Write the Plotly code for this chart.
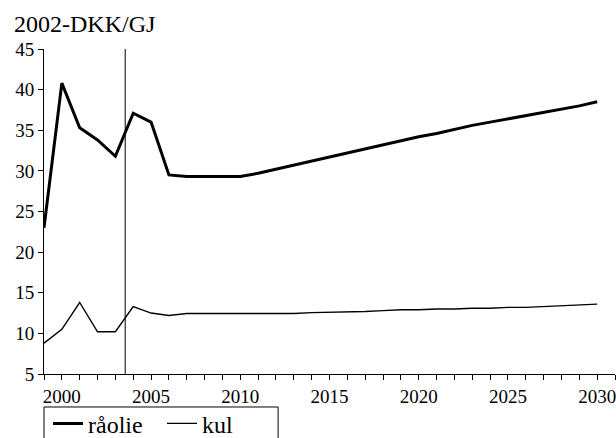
import plotly.graph_objects as go

years = list(range(1999, 2031))
raolie = [23.0, 40.8, 35.3, 33.8, 31.8, 37.1, 36.0, 29.5, 29.3, 29.3, 29.3, 29.3,
          29.7, 30.2, 30.7, 31.2, 31.7, 32.2, 32.7, 33.2, 33.7, 34.2, 34.6, 35.1,
          35.6, 36.0, 36.4, 36.8, 37.2, 37.6, 38.0, 38.5]
kul = [8.8, 10.5, 13.8, 10.2, 10.2, 13.3, 12.5, 12.2, 12.45, 12.45, 12.45, 12.45,
       12.45, 12.45, 12.45, 12.55, 12.6, 12.6, 12.7, 12.8, 12.9, 12.9, 13.0, 13.0,
       13.1, 13.1, 13.2, 13.2, 13.3, 13.4, 13.5, 13.6]
y_ticks = [5, 10, 15, 20, 25, 30, 35, 40, 45]
x_ticks = [2000, 2005, 2010, 2015, 2020, 2025, 2030]
marker_year = 2003.55

font = "Liberation Serif"

fig = go.Figure()
fig.add_trace(go.Scatter(x=years, y=raolie, mode="lines", name="råolie",
                         line=dict(color="black", width=3)))
fig.add_trace(go.Scatter(x=years, y=kul, mode="lines", name="kul",
                         line=dict(color="black", width=1.4)))

fig.add_shape(type="line", x0=marker_year, x1=marker_year, y0=5, y1=45,
              xref="x", yref="y", line=dict(color="black", width=1))
# legend frame
fig.add_shape(type="rect", xref="paper", yref="paper", x0=0, x1=0.41, y0=-0.1015, y1=-0.4,
              line=dict(color="black", width=1), fillcolor="rgba(0,0,0,0)")

fig.update_layout(
    width=616, height=438,
    margin=dict(l=44, r=1, t=49, b=64, autoexpand=False),
    plot_bgcolor="white", paper_bgcolor="white",
    font=dict(family=font, size=19, color="black"),
    showlegend=True,
    legend=dict(orientation="h", x=0.007, xanchor="left", y=-0.084, yanchor="top",
                borderwidth=0, font=dict(size=24, family=font),
                itemwidth=30, entrywidth=69, tracegroupgap=0, traceorder="normal",
                bgcolor="rgba(0,0,0,0)"),
    annotations=[dict(text="2002-DKK/GJ", xref="paper", yref="paper", x=-0.056, y=1.031,
                      xanchor="left", yanchor="bottom", showarrow=False,
                      font=dict(size=24, family=font))],
)
fig.update_xaxes(range=[1999, 2031], tickvals=x_ticks, showgrid=False, zeroline=False,
                 showline=True, linecolor="black", linewidth=1,
                 ticks="outside", ticklen=5, tickcolor="black", ticklabeloverflow="allow",
                 minor=dict(dtick=1, tick0=1999, ticks="outside", ticklen=5, tickcolor="black"),
                 tickfont=dict(size=19, family=font))
fig.update_yaxes(range=[5, 45], tickvals=y_ticks, showgrid=False, zeroline=False,
                 showline=True, linecolor="black", linewidth=1,
                 ticks="outside", ticklen=5, tickcolor="black",
                 tickfont=dict(size=19, family=font))

fig.write_html("out.html", config={"displayModeBar": False},
               post_script="document.body.style.margin='0px';document.body.style.overflow='hidden';")
